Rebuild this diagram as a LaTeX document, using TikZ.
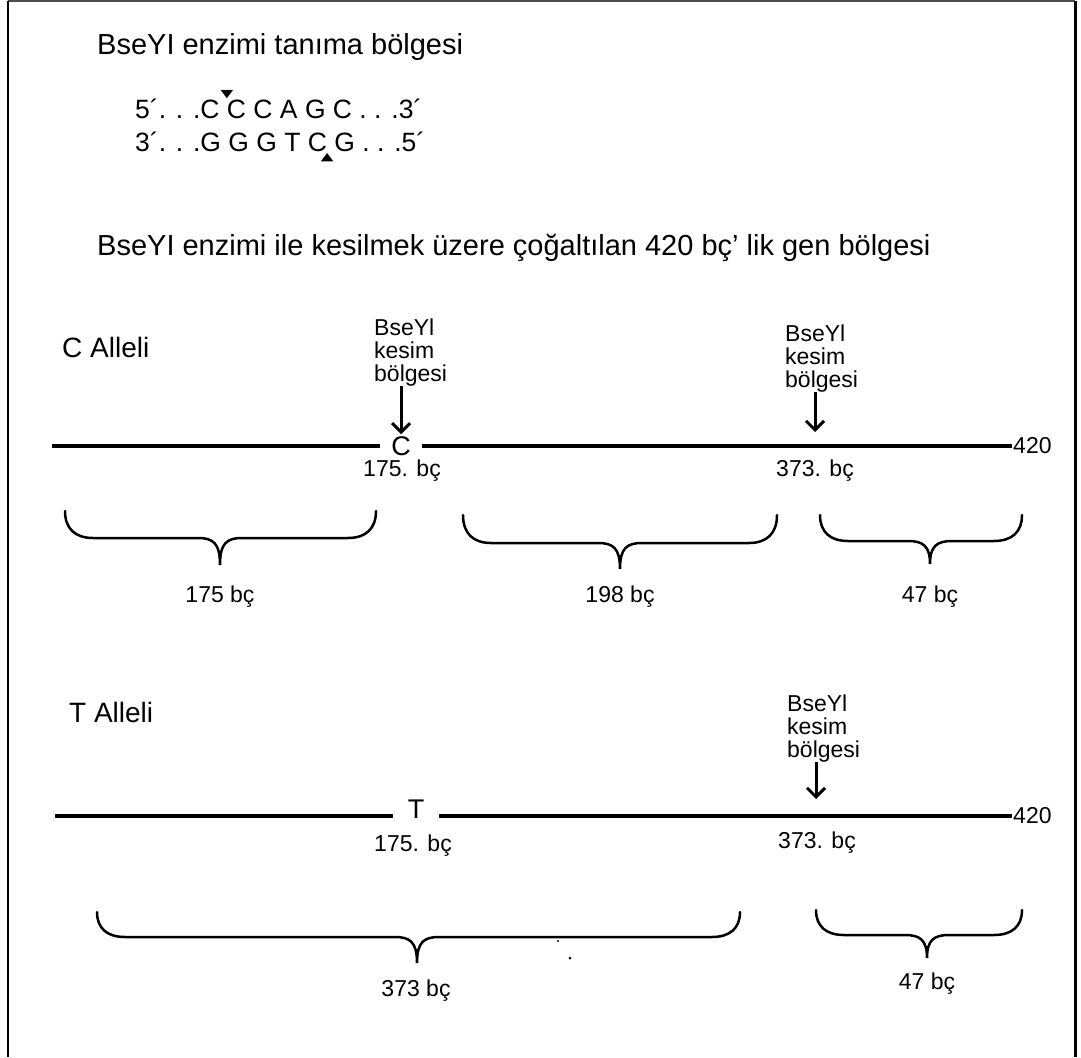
\documentclass[tikz,border=0pt]{standalone}
\usepackage{fontspec}
\setmainfont{Liberation Sans}
\newfontfamily\symfont{DejaVu Sans}
\usetikzlibrary{arrows.meta}

% curly brace opening downwards: x-left, x-right, x-tip, y-ends, y-bar, y-tip
\newcommand{\curlybrc}[6]{%
  \draw[brc] (#1,#4) .. controls (#1,{#4+0.65*(#5-#4)}) and ({#1+10},#5) .. ({#1+28},#5)
    -- ({#3-22},#5) .. controls ({#3-7},#5) and (#3,{#5+5}) .. (#3,#6)
    .. controls (#3,{#5+5}) and ({#3+7},#5) .. ({#3+22},#5)
    -- ({#2-28},#5) .. controls ({#2-10},#5) and (#2,{#4+0.65*(#5-#4)}) .. (#2,#4);}
% cut marks in the recognition sequence (kept out of the line's box)
\newcommand{\cutdown}{\makebox[0pt]{\smash{\raisebox{21pt}{\scalebox{1.5}[1]{\symfont\fontsize{11}{11}\selectfont ▼}}}}}
\newcommand{\cutup}{\makebox[0pt]{\smash{\raisebox{-9pt}{\scalebox{1.5}[1]{\symfont\fontsize{11}{11}\selectfont ▲}}}}}

\begin{document}
\begin{tikzpicture}[x=1pt,y=-1pt,
  headtxt/.style={inner sep=0pt, anchor=west, font=\fontsize{29}{33}\selectfont},
  seqtxt/.style={inner sep=0pt, anchor=west, font=\fontsize{26.5}{30}\selectfont},
  alleletxt/.style={inner sep=0pt, anchor=west, font=\fontsize{28}{32}\selectfont},
  basetxt/.style={inner ysep=2pt, font=\fontsize{27}{30}\selectfont},
  postxt/.style={inner sep=0pt, font=\fontsize{23}{26}\selectfont},
  sitetxt/.style={inner sep=0pt, anchor=south west, align=left, font=\fontsize{23}{23}\selectfont},
  endtxt/.style={inner sep=1pt, anchor=west, font=\fontsize{23}{26}\selectfont},
  dna/.style={line width=4pt},
  cutarrow/.style={line width=3pt, -{Straight Barb[length=9pt,width=18pt]}},
  brc/.style={line width=2.5pt, line cap=round},
  ]
\useasboundingbox (0,0) rectangle (1081,1057);
\fill[white] (0,0) rectangle (1081,1057);

% frame
\draw[line width=1.5pt, black!70] (8,1) -- (1075,1);
\draw[line width=2pt] (8,1) -- (8,1057);
\draw[line width=3pt] (1075,1) -- (1075,1057);

% recognition site
\node[headtxt] (t1) at (97,47) {BseYI enzimi tanıma bölgesi};
\node[seqtxt] (s1) at (135,109) {5´. . .C \cutdown C C A G C . . .3´};
\node[seqtxt] (s2) at (135,142) {3´. . .G G G T C\cutup{} G . . .5´};

\node[headtxt] (t2) at (97,248) {BseYI enzimi ile kesilmek üzere çoğaltılan 420 bç' lik gen bölgesi};

% ---------------- C allele ----------------
\node[alleletxt] (ca) at (62,347) {C Alleli};
\coordinate (c0) at (52,446);
\node[basetxt, inner xsep=11pt] (cC) at (401,446) {C};
\node[endtxt] (c420) at (1012,446) {420};
\draw[dna] (c0) -- (cC);
\draw[dna] (cC) -- (c420.west);

\node[sitetxt] (cs1) at (374,386) {BseYl\\kesim\\bölgesi};
\node[sitetxt] (cs2) at (785,392) {BseYl\\kesim\\bölgesi};
\coordinate (cx2) at (815,432);
\draw[cutarrow] (cs1.south -| cC.north) -- (cC.north);
\draw[cutarrow] (cs2.south -| cx2) -- (cx2);

\node[postxt] (cp1) at (402,471) {175. bç};
\node[postxt] (cp2) at (815,471) {373. bç};

\curlybrc{65}{376}{220}{511}{538}{565}
\curlybrc{463}{777}{620}{515}{543}{569}
\curlybrc{820}{1022}{930}{515}{541}{564}
\node[postxt] (cf1) at (220,597) {175 bç};
\node[postxt] (cf2) at (620,597) {198 bç};
\node[postxt] (cf3) at (930,597) {47 bç};

% ---------------- T allele ----------------
\node[alleletxt] (ta) at (69,712) {T Alleli};
\coordinate (t0) at (55,816);
\node[basetxt, inner xsep=15pt] (tT) at (416,809) {T};
\node[endtxt] (t420) at (1012,816) {420};
\draw[dna] (t0) -- (t0 -| tT.west);
\draw[dna] (t0 -| tT.east) -- (t420.west);

\node[sitetxt] (ts1) at (787,762) {BseYl\\kesim\\bölgesi};
\coordinate (tx1) at (816,799);
\draw[cutarrow] (ts1.south -| tx1) -- (tx1);

\node[postxt] (tp1) at (413,846) {175. bç};
\node[postxt] (tp2) at (817,843) {373. bç};

\curlybrc{97}{740}{417}{912}{937}{963}
\curlybrc{816}{1022}{927}{910}{935}{958}
\fill (558,941) circle (1.2pt);
\fill (570,958) circle (1.5pt);
\node[postxt] (tf1) at (416,991) {373 bç};
\node[postxt] (tf2) at (927,984) {47 bç};
\end{tikzpicture}
\end{document}
